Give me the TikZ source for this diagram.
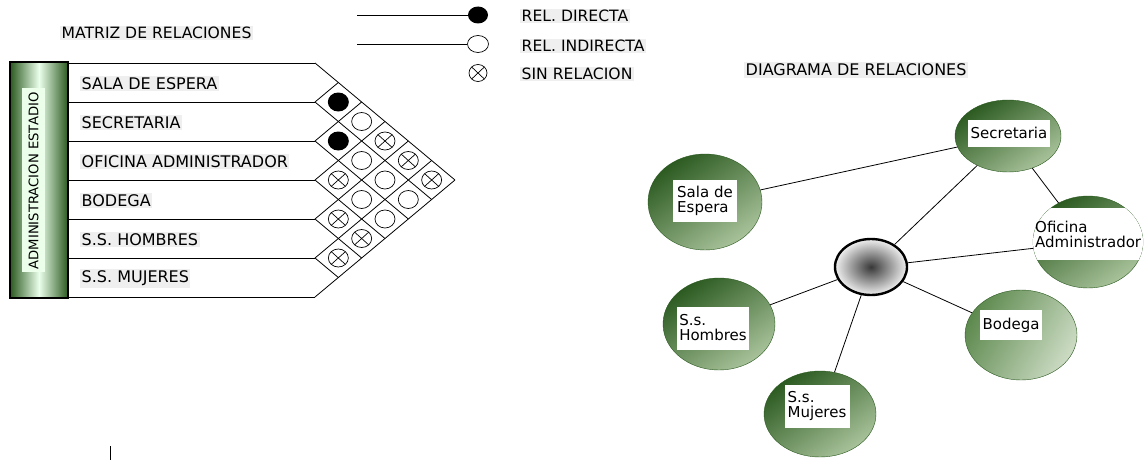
\documentclass[tikz,border=0pt]{standalone}
\usepackage{fontspec}
\setmainfont{DejaVu Sans}
\usetikzlibrary{shapes.geometric}
\definecolor{gdark}{HTML}{2B5A20}
\definecolor{gmid}{HTML}{5E8A4F}
\definecolor{glight}{HTML}{A9C39B}
\definecolor{halo}{HTML}{EFEFEF}
\begin{document}
\begin{tikzpicture}[x=1pt,y=-1pt,
  mline/.style={line width=0.8pt,black},
  dirc/.style={ellipse,fill=black,minimum width=21pt,minimum height=19pt,inner sep=0pt},
  indc/.style={ellipse,draw,line width=0.7pt,minimum width=20pt,minimum height=18pt,inner sep=0pt},
  sinc/.style={indc,path picture={\draw[line width=0.7pt] (path picture bounding box.north west) -- (path picture bounding box.south east) (path picture bounding box.north east) -- (path picture bounding box.south west);}},
  rowlab/.style={anchor=west,fill=halo,inner sep=1.5pt,font=\fontsize{16}{16}\selectfont},
  ttl/.style={anchor=west,fill=halo,inner sep=1.5pt},
  leg/.style={anchor=west,fill=halo,inner sep=1.5pt,font=\fontsize{15.6}{15.6}\selectfont},
  bubble/.style={ellipse,inner sep=0pt,draw=gdark,line width=0.4pt,top color=gdark,bottom color=glight,shading angle=35},
  blab/.style={fill=white,inner sep=2pt,align=left,font=\fontsize{15}{15}\selectfont},
  conn/.style={line width=0.8pt,black}
]
\useasboundingbox (0,0) rectangle (1148,460);

% ---------- titles ----------
\node[ttl,font=\fontsize{15.6}{15.6}\selectfont] (t1) at (60,33) {MATRIZ DE RELACIONES};
\node[ttl,font=\fontsize{16}{16}\selectfont] (t2) at (744,70) {DIAGRAMA DE RELACIONES};

% ---------- legend ----------
\node[dirc,minimum width=20pt,minimum height=17pt] (lg1) at (478,15) {};
\node[indc,minimum width=21pt,minimum height=17pt] (lg2) at (478,44) {};
\node[sinc,minimum width=18pt,minimum height=17pt] (lg3) at (478,73) {};
\coordinate (lg1s) at (357,15);
\coordinate (lg2s) at (357,44);
\draw[mline] (lg1s) -- (lg1);
\draw[mline] (lg2s) -- (lg2);
\node[leg] (lt1) at (520,16) {REL. DIRECTA};
\node[leg] (lt2) at (520,46) {REL. INDIRECTA};
\node[leg] (lt3) at (520,74) {SIN RELACION};

% ---------- matrix ----------
\def\xo{315}\def\ww{23.33}\def\yo{63}\def\hh{39}
\shade[left color=gdark,right color=gdark,middle color=green!8!white] (10,62) rectangle (68,298);
\draw[line width=1.6pt] (10,62) rectangle (68,298);
\fill[white!92!green] (22,88) rectangle (45,272);
\node[rotate=90,font=\fontsize{13.2}{13.2}\selectfont] (adm) at (33.5,181) {ADMINISTRACION ESTADIO};

\foreach \i in {0,...,6}
  \draw[mline] (68,{\yo+\i*\hh}) -- (\xo,{\yo+\i*\hh});
\foreach \i in {0,...,5}
  \draw[mline] (\xo,{\yo+\i*\hh}) -- ({\xo+(6-\i)*\ww},{(\yo+\i*\hh+\yo+6*\hh)/2});
\foreach \i in {1,...,6}
  \draw[mline] (\xo,{\yo+\i*\hh}) -- ({\xo+\i*\ww},{(2*\yo+\i*\hh)/2});

\foreach \i/\j/\s in {1/2/dirc,1/3/indc,2/3/dirc,1/4/sinc,2/4/indc,1/5/sinc,3/4/sinc,2/5/indc,1/6/sinc,3/5/indc,2/6/indc,4/5/sinc,3/6/indc,4/6/sinc,5/6/sinc}
  \node[\s] (c\i\j) at ({\xo+(\j-\i)*\ww},{\yo+((\i+\j)/2-0.5)*\hh}) {};

\foreach \i/\t in {1/SALA DE ESPERA,2/SECRETARIA,3/OFICINA ADMINISTRADOR,4/BODEGA,5/S.S. HOMBRES,6/S.S. MUJERES}
  \node[rowlab] (r\i) at (80,{\yo+(\i-0.5)*\hh+1}) {\t};

% ---------- relation diagram ----------
\node[bubble,minimum width=106pt,minimum height=72pt] (sec) at (1008,136) {};
\node[bubble,minimum width=114pt,minimum height=96pt] (sal) at (705,202) {};
\node[bubble,minimum width=110pt,minimum height=92pt] (ofi) at (1088,242) {};
\node[bubble,top color=gmid,bottom color=glight!60!white,shading angle=60,minimum width=112pt,minimum height=90pt] (bod) at (1021,335) {};
\node[bubble,minimum width=112pt,minimum height=92pt] (hom) at (719,324) {};
\node[bubble,minimum width=112pt,minimum height=86pt] (muj) at (820,414) {};
\node[ellipse,draw=black,line width=2.4pt,inner color=black!78,outer color=black!6,minimum width=72pt,minimum height=56pt,inner sep=0pt] (cen) at (871,267) {};

\begin{scope}
  \clip (1088,242) ellipse [x radius=55, y radius=46];
  \fill[white] (1030,208) rectangle (1146,260);
\end{scope}

\node[blab,minimum width=82pt,minimum height=27pt] (secL) at (1009,133) {Secretaria};
\node[blab,minimum width=64pt,minimum height=42pt] (salL) at (705,201) {Sala de\\Espera};
\node[fill=none,inner sep=0pt,align=left,font=\fontsize{15}{15}\selectfont,anchor=west] (ofiL) at (1035,234) {Oficina\\Administrador};
\node[blab,minimum width=62pt,minimum height=30pt] (bodL) at (1011,325) {Bodega};
\node[blab,minimum width=67pt,minimum height=43pt] (homL) at (713,328) {S.s.\\Hombres};
\node[blab,minimum width=65pt,minimum height=43pt] (mujL) at (817,406) {S.s.\\Mujeres};

\draw[conn] (sal) -- (sec);
\draw[conn] (cen) -- (sec);
\draw[conn] (sec) -- (ofi);
\draw[conn] (cen) -- (ofi);
\draw[conn] (cen) -- (bod);
\draw[conn] (cen) -- (hom);
\draw[conn] (cen) -- (muj);

% small stray mark
\draw[line width=1pt] (110,446) -- (110,460);
\end{tikzpicture}
\end{document}
